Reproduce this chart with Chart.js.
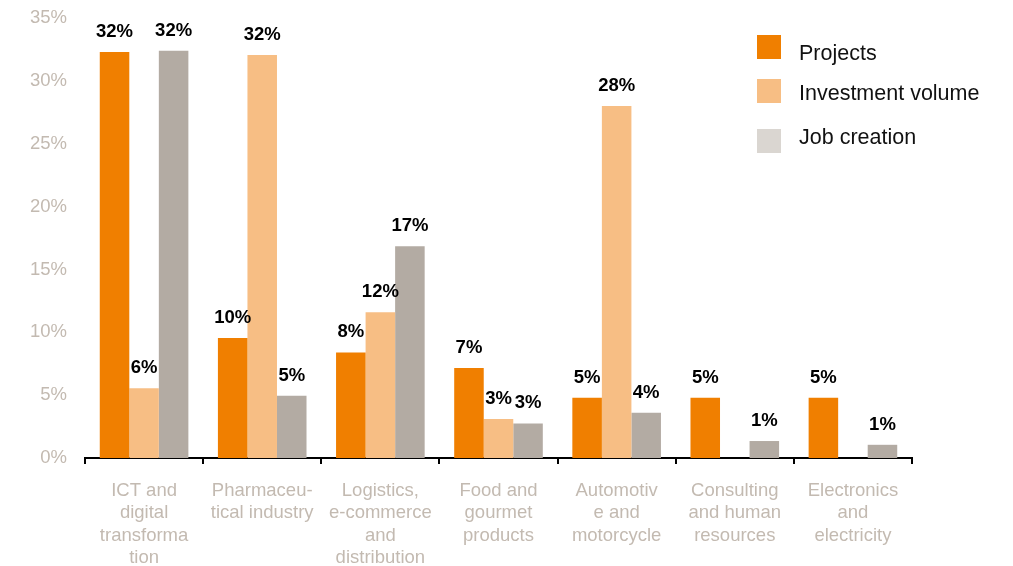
<!DOCTYPE html>
<html lang="en">
<head>
    <meta charset="UTF-8">
    <script src="https://cdn.jsdelivr.net/npm/chart.js"></script>
    <title>Sector shares</title>
    <style>
        body { margin: 0; background: #fff; }
        #wrap { width: 1013px; height: 566px; position: relative; }
    </style>
</head>
<body>
    <div id="wrap"><canvas id="chart" width="1013" height="566"></canvas></div>
    <script>
        const sectors = [
            ['ICT and', 'digital', 'transforma', 'tion'],
            ['Pharmaceu-', 'tical industry'],
            ['Logistics,', 'e-commerce', 'and', 'distribution'],
            ['Food and', 'gourmet', 'products'],
            ['Automotiv', 'e and', 'motorcycle'],
            ['Consulting', 'and human', 'resources'],
            ['Electronics', 'and', 'electricity']
        ];
        const projects   = [32.3, 9.55, 8.4, 7.15, 4.8, 4.8, 4.8];
        const investment = [5.55, 32.05, 11.6, 3.1, 28.0, 0, 0];
        const jobs       = [32.4, 4.95, 16.85, 2.75, 3.6, 1.35, 1.05];
        const projectsLabels   = ['32%', '10%', '8%', '7%', '5%', '5%', '5%'];
        const investmentLabels = ['6%', '32%', '12%', '3%', '28%', '', ''];
        const jobsLabels       = ['32%', '5%', '17%', '3%', '4%', '1%', '1%'];
        const yTicks = [0, 5, 10, 15, 20, 25, 30, 35];

        const grey = '#c3bab1';
        const fontFam = '"Liberation Sans", Arial, sans-serif';

        // text over each bar
        const barLabels = {
            id: 'barLabels',
            afterDatasetsDraw(chart) {
                const ctx = chart.ctx;
                ctx.save();
                ctx.font = 'bold 18.5px ' + fontFam;
                ctx.fillStyle = '#000';
                ctx.textAlign = 'center';
                ctx.textBaseline = 'alphabetic';
                chart.data.datasets.forEach((ds, i) => {
                    chart.getDatasetMeta(i).data.forEach((bar, j) => {
                        const txt = ds.labelsText[j];
                        if (!txt) return;
                        ctx.fillText(txt, bar.x, bar.y - 15);
                    });
                });
                ctx.restore();
            }
        };

        // legend in the top right corner
        const sideLegend = {
            id: 'sideLegend',
            afterDraw(chart) {
                const ctx = chart.ctx;
                const items = [
                    { text: 'Projects', color: '#f07f00', sq: 35, ty: 54 },
                    { text: 'Investment volume', color: '#f7be84', sq: 79, ty: 94 },
                    { text: 'Job creation', color: '#dad6d1', sq: 129, ty: 138 }
                ];
                ctx.save();
                ctx.font = '21.5px ' + fontFam;
                ctx.textBaseline = 'middle';
                ctx.textAlign = 'left';
                items.forEach(it => {
                    ctx.fillStyle = it.color;
                    ctx.fillRect(757, it.sq, 24, 24);
                    ctx.fillStyle = '#111';
                    ctx.fillText(it.text, 799, it.ty);
                });
                ctx.restore();
            }
        };

        new Chart(document.getElementById('chart'), {
            type: 'bar',
            data: {
                labels: sectors,
                datasets: [{
                    label: 'Projects',
                    data: projects,
                    labelsText: projectsLabels,
                    backgroundColor: '#f07f00'
                }, {
                    label: 'Investment volume',
                    data: investment,
                    labelsText: investmentLabels,
                    backgroundColor: '#f7be84'
                }, {
                    label: 'Job creation',
                    data: jobs,
                    labelsText: jobsLabels,
                    backgroundColor: '#b3aba3'
                }]
            },
            options: {
                responsive: false,
                animation: false,
                layout: { padding: { top: 18, right: 101, left: 0, bottom: 0 } },
                datasets: {
                    bar: { barPercentage: 1, categoryPercentage: 0.75 }
                },
                plugins: {
                    legend: { display: false },
                    tooltip: { enabled: false }
                },
                scales: {
                    x: {
                        afterFit(scale) { scale.height = 108; },
                        border: { display: true, color: '#000', width: 2 },
                        grid: {
                            display: true,
                            offset: true,
                            drawOnChartArea: false,
                            drawTicks: true,
                            tickLength: 6,
                            color: '#000',
                            lineWidth: 2
                        },
                        ticks: {
                            color: grey,
                            padding: 16,
                            maxRotation: 0,
                            autoSkip: false,
                            font: { family: fontFam, size: 18.5, lineHeight: 1.2 }
                        }
                    },
                    y: {
                        min: 0,
                        max: 35,
                        afterFit(scale) {
                            scale.width = 85;
                            scale.paddingTop = 0;
                            scale.paddingBottom = 0;
                        },
                        afterBuildTicks(scale) {
                            scale.ticks = yTicks.map(v => ({ value: v }));
                        },
                        border: { display: false },
                        grid: { display: false },
                        ticks: {
                            color: grey,
                            padding: 10,
                            font: { family: fontFam, size: 18.5 },
                            callback: v => v + '%'
                        }
                    }
                }
            },
            plugins: [barLabels, sideLegend]
        });
    </script>
</body>
</html>
